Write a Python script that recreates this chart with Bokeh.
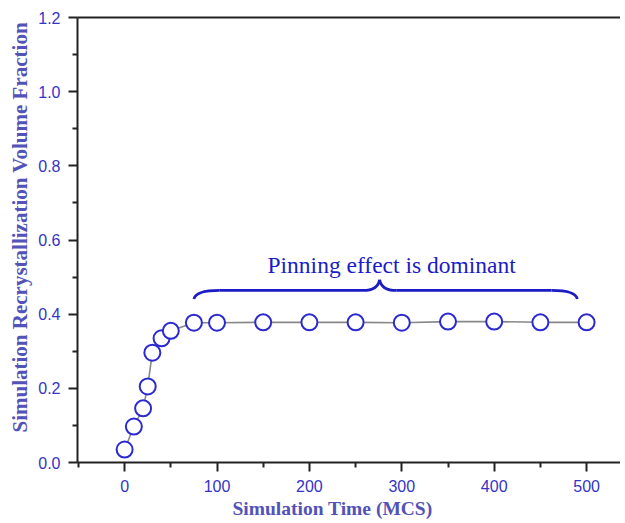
from bokeh.plotting import figure
from bokeh.models import LinearAxis, Range1d, FixedTicker, ColumnDataSource, Title
from bokeh.core.properties import value
from bokeh.embed import file_html
from bokeh.resources import INLINE

# Data
time_mcs = [0, 10, 20, 25, 30, 40, 50, 75, 100, 150, 200, 250, 300, 350, 400, 450, 500]
fraction = [0.035, 0.097, 0.146, 0.205, 0.296, 0.335, 0.355, 0.377, 0.377, 0.378,
            0.378, 0.378, 0.377, 0.380, 0.380, 0.378, 0.378]

x_ticks = [0, 100, 200, 300, 400, 500]
x_minor = [-50, 50, 150, 250, 350, 450, 550]
y_ticks = [0.0, 0.2, 0.4, 0.6, 0.8, 1.0, 1.2]
y_tick_labels = ["0.0", "0.2", "0.4", "0.6", "0.8", "1.0", "1.2"]
y_minor = [0.1, 0.3, 0.5, 0.7, 0.9, 1.1]

x_title = "Simulation Time (MCS)"
y_title = "Simulation Recrystallization Volume Fraction"
annotation_text = "Pinning effect is dominant"
annot_x = 289
annot_y = 0.532
# brace annotation anchors (data units)
brace_x0, brace_x1, brace_mid = 75, 490, 276
brace_y_end, brace_y, brace_y_tip = 0.441, 0.464, 0.493

TICK_COLOR = "#3434c8"
TITLE_COLOR = "#5252b8"
MARK_COLOR = "#2a2ad0"
BRACE_COLOR = "#1c1cc4"

p = figure(width=620, height=522, x_range=Range1d(-51, 536.7), y_range=Range1d(0, 1.2),
           output_backend="svg", toolbar_location=None,
           min_border_left=77, min_border_top=17, min_border_bottom=60, min_border_right=0)
p.outline_line_color = None
p.grid.visible = False
p.background_fill_color = "white"

for ax in (p.xaxis[0], p.yaxis[0]):
    ax.axis_line_width = 2
    ax.axis_line_color = "#222222"
    ax.major_tick_line_width = 2
    ax.minor_tick_line_width = 2
    ax.major_tick_line_color = "#222222"
    ax.minor_tick_line_color = "#222222"
    ax.major_tick_in = 0
    ax.major_tick_out = 9
    ax.minor_tick_in = 0
    ax.minor_tick_out = 5
    ax.major_label_text_font = "Liberation Sans"
    ax.major_label_text_font_size = "16px"
    ax.major_label_text_color = TICK_COLOR
    ax.major_label_standoff = 8

p.xaxis[0].ticker = FixedTicker(ticks=x_ticks, minor_ticks=x_minor)
p.yaxis[0].ticker = FixedTicker(ticks=y_ticks, minor_ticks=y_minor)
p.yaxis[0].major_label_overrides = {t: l for t, l in zip(y_ticks, y_tick_labels)}

top = LinearAxis(ticker=FixedTicker(ticks=[]), axis_line_width=2, axis_line_color="#222222",
                 major_tick_line_color=None, minor_tick_line_color=None)
p.add_layout(top, "above")

xt = Title(text=x_title, align="left", offset=155, text_font="Liberation Serif",
           text_font_style="bold", text_font_size="19.5px", text_color=TITLE_COLOR, standoff=2)
p.add_layout(xt, "below")
yt = Title(text=y_title, align="left", offset=30, text_font="Liberation Serif",
           text_font_style="bold", text_font_size="21px", text_color=TITLE_COLOR, standoff=8)
p.add_layout(yt, "left")

src = ColumnDataSource(dict(x=time_mcs, y=fraction))
p.line("x", "y", source=src, line_color="#888888", line_width=1.6)
p.scatter("x", "y", source=src, marker="circle", size=16, fill_color="white",
          line_color=MARK_COLOR, line_width=2)

# curly brace
bw = 2.8
p.quadratic(x0=[brace_x0], y0=[brace_y_end], x1=[brace_x0 + 28], y1=[brace_y],
            cx=[brace_x0 + 2], cy=[brace_y], line_color=BRACE_COLOR, line_width=bw)
p.segment(x0=[brace_x0 + 28], y0=[brace_y], x1=[brace_mid - 18], y1=[brace_y],
          line_color=BRACE_COLOR, line_width=bw)
p.quadratic(x0=[brace_mid - 18], y0=[brace_y], x1=[brace_mid], y1=[brace_y_tip],
            cx=[brace_mid - 2], cy=[brace_y], line_color=BRACE_COLOR, line_width=bw)
p.quadratic(x0=[brace_mid], y0=[brace_y_tip], x1=[brace_mid + 18], y1=[brace_y],
            cx=[brace_mid + 2], cy=[brace_y], line_color=BRACE_COLOR, line_width=bw)
p.segment(x0=[brace_mid + 18], y0=[brace_y], x1=[brace_x1 - 28], y1=[brace_y],
          line_color=BRACE_COLOR, line_width=bw)
p.quadratic(x0=[brace_x1 - 28], y0=[brace_y], x1=[brace_x1], y1=[brace_y_end],
            cx=[brace_x1 - 2], cy=[brace_y], line_color=BRACE_COLOR, line_width=bw)

p.text(x=[annot_x], y=[annot_y], text=[annotation_text], text_font=value("Liberation Serif"),
       text_font_size="23.5px", text_color=BRACE_COLOR, text_align="center",
       text_baseline="alphabetic")

open("out.html", "w").write(file_html(p, INLINE))
